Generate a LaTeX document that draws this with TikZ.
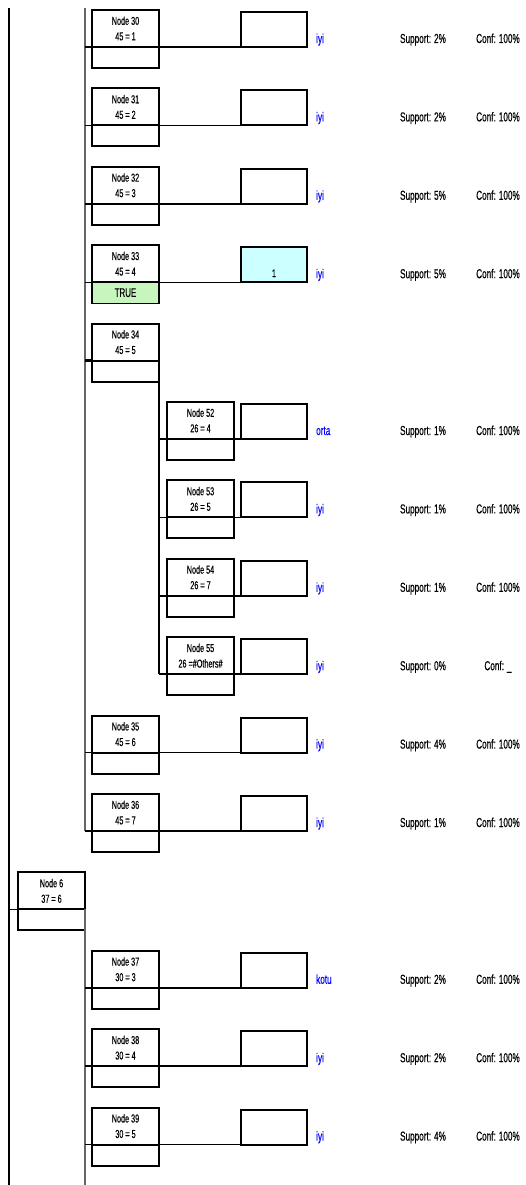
\documentclass[tikz,border=0pt]{standalone}
\usepackage{fontspec}
\setmainfont{Liberation Sans}
\newfontfamily\narrow[FakeStretch=0.63, FakeBold=0.3]{Liberation Sans}
\usetikzlibrary{positioning}
\definecolor{truegreen}{RGB}{200,245,190}
\definecolor{valcyan}{RGB}{204,255,255}
\tikzset{
  nod/.style={draw, line width=2pt, minimum width=67pt, minimum height=37pt, inner sep=0pt, outer sep=0pt, align=center, font=\narrow\fontsize{11.5}{15.5}\selectfont, anchor=north west},
  low/.style={draw, line width=2pt, minimum width=67pt, minimum height=21pt, inner sep=0pt, outer sep=0pt, anchor=north, font=\narrow\fontsize{12.5}{13}\selectfont},
  val/.style={draw, line width=2pt, minimum width=66pt, minimum height=35pt, inner sep=0pt, outer sep=0pt, anchor=south west},
  con/.style={line width=1.5pt},
  trunk/.style={line width=1.8pt, black!60},
  cls/.style={font=\narrow\fontsize{13}{13}\selectfont, text=blue, anchor=base west, inner sep=0pt},
  stat/.style={font=\narrow\fontsize{13}{13}\selectfont, anchor=base, inner sep=0pt}
}
% split node: test box on top, empty part below
\newcommand{\tnode}[6][]{%
  \node[nod] (#2) at (#3,#4) {#5};
  \node[low, #1] (#2l) at (#2.south) {#6};}
% value box, class and the two measures of one leaf
\newcommand{\leaf}[6][]{%
  \node[val, #1] (v#2) at (241,#3) {};
  \node[cls] (c#2) at (316,#3+4) {#4};
  \node[stat] (s#2) at (423,#3+4) {Support: #5};
  \node[stat] (f#2) at (498,#3+4) {Conf: #6};}

\begin{document}
\begin{tikzpicture}[x=1pt, y=1pt]
	\useasboundingbox (0,0) rectangle (525,-1185);
	\coordinate (root) at (9,-8);
	\coordinate (rootend) at (9,-1185);
	\coordinate (a0) at (85,-8);
	\draw[con] (root) -- (rootend);

	\tnode{n30}{92}{-10}{Node 30\\45 = 1}{}
	\tnode{n31}{92}{-88.4}{Node 31\\45 = 2}{}
	\tnode{n32}{92}{-166.8}{Node 32\\45 = 3}{}
	\tnode[fill=truegreen, line width=1.2pt]{n33}{92}{-245.2}{Node 33\\45 = 4}{TRUE}
	\tnode{n34}{92}{-323.6}{Node 34\\45 = 5}{}
	\tnode{n52}{167}{-402}{Node 52\\26 = 4}{}
	\tnode{n53}{167}{-480.4}{Node 53\\26 = 5}{}
	\tnode{n54}{167}{-558.8}{Node 54\\26 = 7}{}
	\tnode{n55}{167}{-637.2}{Node 55\\26 =\#Others\#}{}
	\tnode{n35}{92}{-715.6}{Node 35\\45 = 6}{}
	\tnode{n36}{92}{-794}{Node 36\\45 = 7}{}
	\tnode{n6}{18}{-872.4}{Node 6\\37 = 6}{}
	\tnode{n37}{92}{-950.8}{Node 37\\30 = 3}{}
	\tnode{n38}{92}{-1029.2}{Node 38\\30 = 4}{}
	\tnode{n39}{92}{-1107.6}{Node 39\\30 = 5}{}

	\leaf{30}{-47}{iyi}{2\%}{100\%}
	\leaf{31}{-125.4}{iyi}{2\%}{100\%}
	\leaf{32}{-203.8}{iyi}{5\%}{100\%}
	\leaf[fill=valcyan]{33}{-282.2}{iyi}{5\%}{100\%}
	\node[stat, font=\narrow\fontsize{11}{12}\selectfont] (one33) at (274,-277) {1};
	\leaf{52}{-439}{orta}{1\%}{100\%}
	\leaf{53}{-517.4}{iyi}{1\%}{100\%}
	\leaf{54}{-595.8}{iyi}{1\%}{100\%}
	\leaf{55}{-674.2}{iyi}{0\%}{\_}
	\leaf{35}{-752.6}{iyi}{4\%}{100\%}
	\leaf{36}{-831}{iyi}{1\%}{100\%}
	\leaf{37}{-987.8}{kotu}{2\%}{100\%}
	\leaf{38}{-1066.2}{iyi}{2\%}{100\%}
	\leaf{39}{-1144.6}{iyi}{4\%}{100\%}

	% first level under the root
	\draw[trunk] (a0) -- (a0 |- v36.south west);
	\draw[con] (a0 |- v30.south west) -- (v30.south west);
	\draw[con] (a0 |- v31.south west) -- (v31.south west);
	\draw[con] (a0 |- v32.south west) -- (v32.south west);
	\draw[con, line width=1pt] (a0 |- v33.south west) -- (v33.south west);
	\draw[con, line width=2.5pt] (a0 |- n34.south west) -- (n34.south west);
	\draw[con] (a0 |- v35.south west) -- (v35.south west);
	\draw[con] (a0 |- v36.south west) -- (v36.south west);
	% below node 34
	\draw[con] (n34.south east) -- (n34.south east |- v55.south west);
	\draw[con] (n34.south east |- v52.south west) -- (v52.south west);
	\draw[con] (n34.south east |- v53.south west) -- (v53.south west);
	\draw[con] (n34.south east |- v54.south west) -- (v54.south west);
	\draw[con] (n34.south east |- v55.south west) -- (v55.south west);
	% node 6 and its branches
	\draw[con] (root |- n6.south west) -- (n6.south west);
	\draw[trunk] (n6.south east) -- (n6.south east |- rootend);
	\draw[con] (n6.south east |- v37.south west) -- (v37.south west);
	\draw[con] (n6.south east |- v38.south west) -- (v38.south west);
	\draw[con] (n6.south east |- v39.south west) -- (v39.south west);
\end{tikzpicture}
\end{document}
